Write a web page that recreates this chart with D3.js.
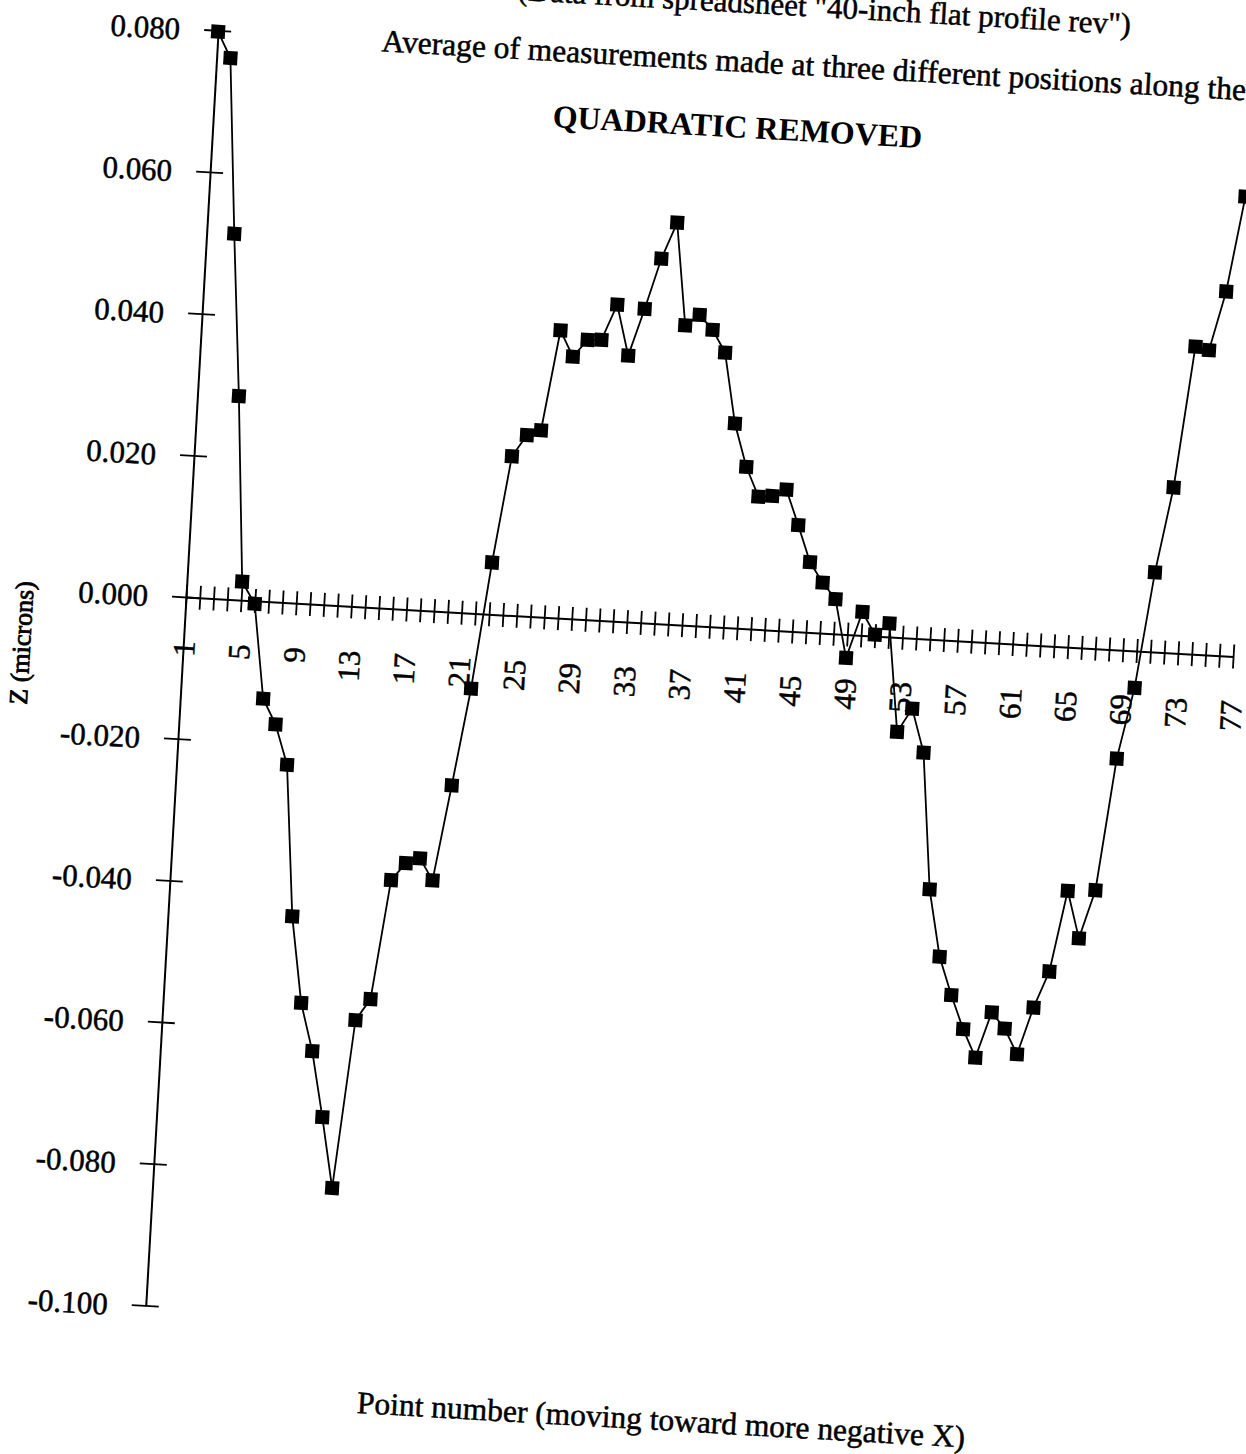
<!DOCTYPE html>
<html>
<head>
<meta charset="utf-8">
<script src="https://cdn.jsdelivr.net/npm/d3@7"></script>
<style>
  body { margin: 0; background: #fff; }
  text { font-family: "Liberation Serif", "Times New Roman", serif; fill: #000; }
</style>
</head>
<body>
<div id="chart"></div>
<script>
// Z profile, one value per point (microns), quadratic removed
var zValues = [
    0.0798, 0.0762, 0.0515, 0.0287, 0.0026, -0.0004, -0.0137, -0.0172, -0.0228, -0.0441,
    -0.0562, -0.0629, -0.0721, -0.0820, -0.0582, -0.0551, -0.0382, -0.0357, -0.0349, -0.0379,
    -0.0244, -0.0106, 0.0073, 0.0224, 0.0255, 0.0263, 0.0405, 0.0369, 0.0394, 0.0395,
    0.0446, 0.0375, 0.0442, 0.0514, 0.0566, 0.0422, 0.0438, 0.0418, 0.0387, 0.0288,
    0.0228, 0.0187, 0.0189, 0.0199, 0.0150, 0.0099, 0.0071, 0.0049, -0.0033, 0.0033,
    0.0002, 0.0019, -0.0133, -0.0099, -0.0160, -0.0352, -0.0446, -0.0499, -0.0546, -0.0585,
    -0.0520, -0.0542, -0.0577, -0.0510, -0.0458, -0.0343, -0.0409, -0.0340, -0.0153, -0.0052,
    0.0112, 0.0233, 0.0433, 0.0429, 0.0513, 0.0648
];
var xLabelPoints = [1, 5, 9, 13, 17, 21, 25, 29, 33, 37, 41, 45, 49, 53, 57, 61, 65, 69, 73, 77];
var yTicks = [0.08, 0.06, 0.04, 0.02, 0, -0.02, -0.04, -0.06, -0.08, -0.1];
var titleLines = [
    "(Data from spreadsheet \"40-inch flat profile rev\")",
    "Average of measurements made at three different positions along the",
    "QUADRATIC REMOVED"
];
var xTitle = "Point number (moving toward more negative X)";
var yTitle = "Z (microns)";

var width = 1246, height = 1454;
var originX = 186, originY = 597;   // where point 1 / Z=0 sit
var tilt = 3.25;                    // the scanned page is turned a bit

var svg = d3.select("#chart").append("svg")
    .attr("width", width)
    .attr("height", height);
svg.append("rect").attr("width", width).attr("height", height).attr("fill", "#fff");

var page = svg.append("g")
    .attr("transform", "rotate(" + tilt + "," + originX + "," + originY + ")");

var x = d3.scaleLinear().domain([1, 77]).range([originX, originX + 76 * 13.8]);
var y = d3.scaleLinear().domain([-0.1, 0.08]).range([1306.5, 29.4]);

// x axis on Z = 0, a tick at every point, labels every fourth
var allPoints = [];
for (var p = 1; p <= 77; p++) allPoints.push(p);
var xAxis = page.append("g")
    .attr("transform", "translate(0," + y(0) + ")")
    .call(d3.axisBottom(x)
        .tickValues(allPoints)
        .tickSizeOuter(0)
        .tickFormat(function (d) { return xLabelPoints.indexOf(d) >= 0 ? d : ""; }));
xAxis.select(".domain").attr("stroke", "#000").attr("stroke-width", 2);
xAxis.selectAll(".tick line").attr("y1", -12).attr("y2", 12)
    .attr("stroke", "#000").attr("stroke-width", 1.8);
xAxis.selectAll(".tick text")
    .attr("transform", "translate(0,44) rotate(-90)")
    .attr("x", 0).attr("y", 0).attr("dy", "0.35em")
    .attr("text-anchor", "end")
    .style("font-size", "31px")
    .style("font-family", "'Liberation Serif', serif")
    .attr("stroke", "#000").attr("stroke-width", 0.5);

// y axis at point 1
var yAxis = page.append("g")
    .attr("transform", "translate(" + x(1) + ",0)")
    .call(d3.axisLeft(y)
        .tickValues(yTicks)
        .tickSizeOuter(0)
        .tickFormat(function (d) { return d.toFixed(3); }));
yAxis.select(".domain").attr("stroke", "#000").attr("stroke-width", 2);
yAxis.selectAll(".tick line").attr("x1", -14).attr("x2", 13)
    .attr("stroke", "#000").attr("stroke-width", 1.8);
yAxis.selectAll(".tick text")
    .attr("x", -38).attr("dy", "0.35em")
    .attr("text-anchor", "end")
    .style("font-size", "31px")
    .style("font-family", "'Liberation Serif', serif")
    .attr("stroke", "#000").attr("stroke-width", 0.5);

// profile line and square markers
var line = d3.line()
    .x(function (d, i) { return x(i + 1); })
    .y(function (d) { return y(d); });
page.append("path")
    .datum(zValues)
    .attr("d", line)
    .attr("fill", "none")
    .attr("stroke", "#000")
    .attr("stroke-width", 1.8);

var box = 14;
page.selectAll("rect.pt")
    .data(zValues)
    .enter().append("rect")
    .attr("class", "pt")
    .attr("x", function (d, i) { return x(i + 1) - box / 2; })
    .attr("y", function (d) { return y(d) - box / 2; })
    .attr("width", box)
    .attr("height", box)
    .attr("fill", "#000");

// titles
page.append("text")
    .attr("x", 1097).attr("y", -18)
    .attr("text-anchor", "end")
    .style("font-size", "31px")
    .attr("stroke", "#000").attr("stroke-width", 0.5)
    .text(titleLines[0]);
page.append("text")
    .attr("x", 350).attr("y", 41)
    .attr("text-anchor", "start")
    .style("font-size", "31.5px")
    .attr("stroke", "#000").attr("stroke-width", 0.5)
    .text(titleLines[1]);
page.append("text")
    .attr("x", 710).attr("y", 107)
    .attr("text-anchor", "middle")
    .style("font-size", "32px")
    .style("font-weight", "bold")
    .text(titleLines[2]);

// axis titles
page.append("text")
    .attr("x", 707).attr("y", 1402)
    .attr("text-anchor", "middle")
    .style("font-size", "31.5px")
    .attr("stroke", "#000").attr("stroke-width", 0.5)
    .text(xTitle);
page.append("text")
    .attr("transform", "translate(24,652) rotate(-90)")
    .attr("dy", "0.35em")
    .attr("text-anchor", "middle")
    .style("font-size", "26px")
    .attr("stroke", "#000").attr("stroke-width", 0.8)
    .text(yTitle);
</script>
</body>
</html>
